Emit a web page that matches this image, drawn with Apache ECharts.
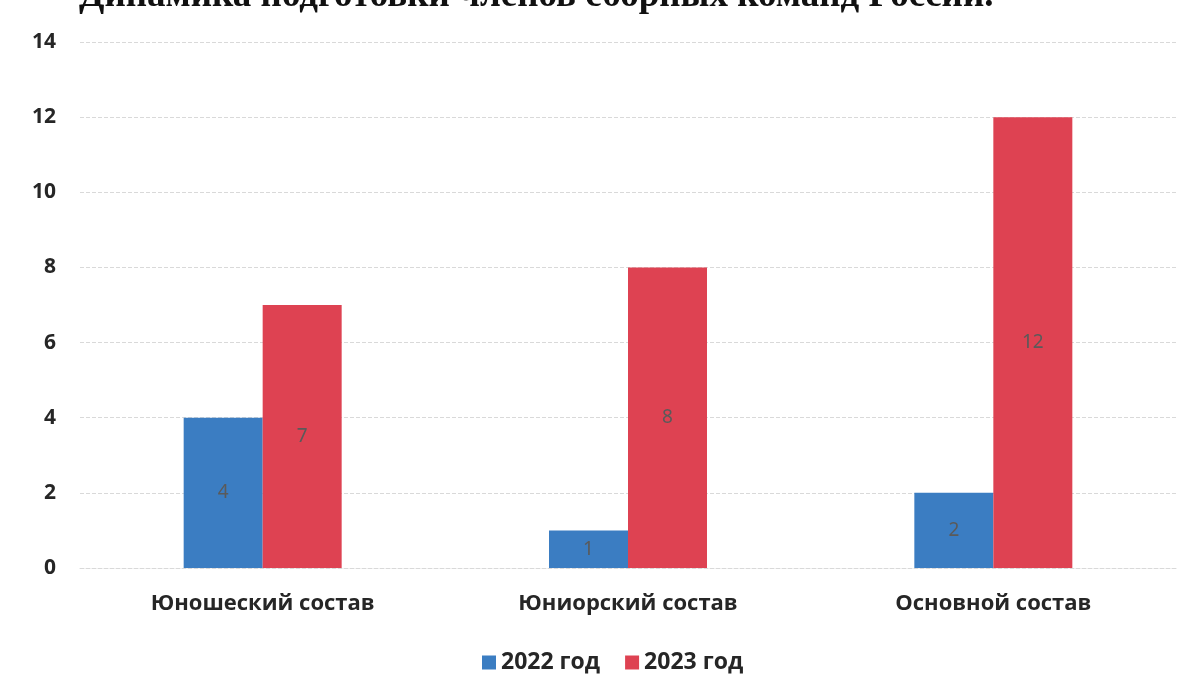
<!DOCTYPE html>
<html>
<head>
<meta charset="utf-8">
<script src="https://cdn.jsdelivr.net/npm/echarts@6/dist/echarts.min.js"></script>
<style>
html,body{margin:0;padding:0;background:#fff;}
#c{width:1198px;height:696px;}
</style>
</head>
<body>
<div id="c"></div>
<script>
const titleText = 'Динамика подготовки членов сборных команд России.';
const categories = ['Юношеский состав', 'Юниорский состав', 'Основной состав'];
const seriesNames = ['2022 год', '2023 год'];
const values2022 = [4, 1, 2];
const values2023 = [7, 8, 12];
const yTicks = [0, 2, 4, 6, 8, 10, 12, 14];

const chart = echarts.init(document.getElementById('c'), null, {renderer: 'canvas'});
const font = 'Open Sans';
const labelStyle = {
  show: true, position: 'inside', color: '#5a5a5a',
  fontFamily: 'Noto Sans', fontSize: 19
};
chart.setOption({
  backgroundColor: '#ffffff',
  animation: false,
  title: {
    text: titleText, left: 74, top: -27,
    textStyle: {fontFamily: 'Liberation Serif', fontWeight: 'bold', fontSize: 37, color: '#111'}
  },
  legend: {
    data: seriesNames, bottom: 17, left: 477,
    itemWidth: 14, itemHeight: 14, itemGap: 25, icon: 'rect',
    textStyle: {fontFamily: font, fontWeight: 'bold', fontSize: 23, color: '#262626'}
  },
  grid: {left: 80, right: 22, top: 42, bottom: 128},
  xAxis: {
    type: 'category', data: categories,
    axisLine: {show: true, lineStyle: {color: '#d9d9d9', type: 'dashed'}},
    axisTick: {show: false},
    axisLabel: {fontFamily: font, fontWeight: 'bold', fontSize: 22, color: '#262626', margin: 25}
  },
  yAxis: {
    type: 'value', min: yTicks[0], max: yTicks[yTicks.length - 1], interval: 2,
    axisLine: {show: false}, axisTick: {show: false},
    splitLine: {show: true, lineStyle: {color: '#d9d9d9', type: 'dashed', width: 1}},
    axisLabel: {fontFamily: font, fontWeight: 'bold', fontSize: 21, color: '#262626', margin: 24}
  },
  series: [
    {name: seriesNames[0], type: 'bar', data: values2022, barWidth: 79, barGap: '0%',
     itemStyle: {color: '#3b7dc2'}, label: labelStyle},
    {name: seriesNames[1], type: 'bar', data: values2023, barWidth: 79, barGap: '0%',
     itemStyle: {color: '#de4252'}, label: labelStyle}
  ]
});
</script>
</body>
</html>
